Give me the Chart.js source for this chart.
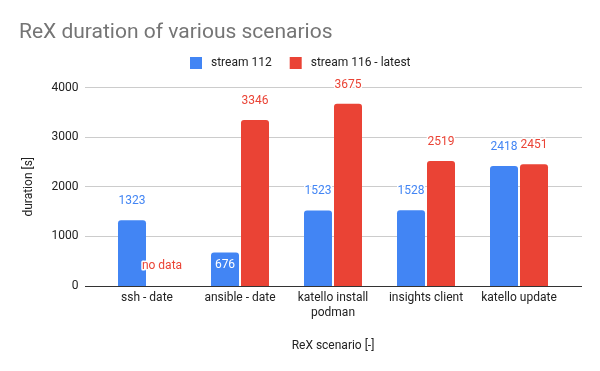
<!DOCTYPE html>
<html>
<head>
<meta charset="utf-8">
<title>ReX duration of various scenarios</title>
<script src="https://cdn.jsdelivr.net/npm/chart.js@4.4.1/dist/chart.umd.min.js"></script>
<style>
  html, body { margin: 0; padding: 0; background: #fff; }
  #wrap { width: 600px; height: 371px; }
</style>
</head>
<body>
<div id="wrap"><canvas id="chart" width="600" height="371"></canvas></div>
<script>
// values
var scenarios = [['ssh - date'], ['ansible - date'], ['katello install', 'podman'], ['insights client'], ['katello update']];
var stream112 = [1323, 676, 1523, 1528, 2418];
var stream116 = [null, 3346, 3675, 2519, 2451];
var seriesNames = ['stream 112', 'stream 116 - latest'];
var seriesColors = ['#4285F4', '#EA4335'];
var yTicks = [0, 1000, 2000, 3000, 4000];

var chartTitle = 'ReX duration of various scenarios';
var insideLimit = 1000; // short bars get their label inside (white), like the sheet does

Chart.defaults.font.family = 'Roboto, "Noto Sans", sans-serif';
Chart.defaults.font.size = 12;
Chart.defaults.color = '#222';

// gridlines run a bit past the bar area on both sides
var gridPlugin = {
    id: 'sheetGrid',
    beforeDatasetsDraw: function(chart) {
        var ctx = chart.ctx, area = chart.chartArea, y = chart.scales.y;
        var x0 = area.left - 15.5, x1 = area.right + 16.5;
        ctx.save();
        ctx.lineWidth = 1;
        y.ticks.forEach(function(t) {
            if (t.value === 0) return;
            var py = Math.round(y.getPixelForValue(t.value) - 0.5) + 0.5;
            ctx.strokeStyle = '#cccccc';
            ctx.beginPath(); ctx.moveTo(x0, py); ctx.lineTo(x1, py); ctx.stroke();
        });
        ctx.restore();
    },
    afterDatasetsDraw: function(chart) {
        var ctx = chart.ctx, area = chart.chartArea, y = chart.scales.y;
        var py = Math.round(y.getPixelForValue(0) - 0.5) + 0.5;
        ctx.save();
        ctx.lineWidth = 1;
        ctx.strokeStyle = '#333333';
        ctx.beginPath(); ctx.moveTo(area.left - 15.5, py); ctx.lineTo(area.right + 16.5, py); ctx.stroke();
        ctx.restore();
    }
};

// value labels above the bars
var labelPlugin = {
    id: 'barLabels',
    afterDatasetsDraw: function(chart) {
        var ctx = chart.ctx;
        var zeroY = chart.scales.y.getPixelForValue(0);
        ctx.save();
        ctx.font = '12px Roboto, "Noto Sans", sans-serif';
        ctx.textAlign = 'center';
        ctx.textBaseline = 'middle';
        ctx.lineJoin = 'round';
        chart.data.datasets.forEach(function(ds, di) {
            var meta = chart.getDatasetMeta(di);
            meta.data.forEach(function(bar, i) {
                var v = ds.data[i];
                var text, color = ds.backgroundColor, py, halo = true;
                if (v === null || v === undefined) {
                    text = 'no data';
                    py = zeroY - 20;
                } else if (v < insideLimit) {
                    text = String(v);
                    color = '#ffffff';
                    py = bar.y + 13;
                    halo = false;
                } else {
                    text = String(v);
                    py = bar.y - 19;
                }
                if (halo) {
                    ctx.strokeStyle = '#ffffff';
                    ctx.lineWidth = 3;
                    ctx.strokeText(text, bar.x, py);
                }
                ctx.fillStyle = color;
                ctx.fillText(text, bar.x, py);
            });
        });
        ctx.restore();
    }
};

// title top-left and legend centred on the whole canvas
var headPlugin = {
    id: 'sheetHead',
    afterDraw: function(chart) {
        var ctx = chart.ctx;
        ctx.save();
        ctx.font = '21px Roboto, "Noto Sans", sans-serif';
        ctx.fillStyle = '#757575';
        ctx.textAlign = 'left';
        ctx.textBaseline = 'alphabetic';
        ctx.fillText(chartTitle, 19, 37.5);

        ctx.font = '12px Roboto, "Noto Sans", sans-serif';
        ctx.textBaseline = 'middle';
        var box = 12, gap = 9, itemGap = 18;
        var widths = chart.data.datasets.map(function(ds) { return ctx.measureText(ds.label).width; });
        var total = 0;
        widths.forEach(function(w, i) { total += box + gap + w + (i > 0 ? itemGap : 0); });
        var x = Math.round((chart.width - total) / 2);
        chart.data.datasets.forEach(function(ds, i) {
            ctx.fillStyle = ds.backgroundColor;
            ctx.fillRect(x, 57, box, box);
            ctx.fillStyle = '#222';
            ctx.fillText(ds.label, x + box + gap, 63);
            x += box + gap + widths[i] + itemGap;
        });
        ctx.restore();
    }
};

var ctx = document.getElementById('chart').getContext('2d');
var myChart = new Chart(ctx, {
    type: 'bar',
    data: {
        labels: scenarios,
        datasets: [{
            label: seriesNames[0],
            data: stream112,
            backgroundColor: seriesColors[0],
            borderRadius: 3,
            categoryPercentage: 60 / 93,
            barPercentage: 28 / 30
        }, {
            label: seriesNames[1],
            data: stream116,
            backgroundColor: seriesColors[1],
            borderRadius: 3,
            categoryPercentage: 60 / 93,
            barPercentage: 28 / 30
        }]
    },
    options: {
        responsive: false,
        animation: false,
        devicePixelRatio: 1,
        layout: { padding: { top: 87.5, right: 34.5, left: 0, bottom: 0 } },
        plugins: {
            legend: { display: false },
            title: { display: false },
            tooltip: { enabled: false }
        },
        scales: {
            x: {
                grid: { display: false, drawTicks: false },
                border: { display: false },
                ticks: { padding: 5, color: '#222', maxRotation: 0, autoSkip: false },
                title: { display: true, text: 'ReX scenario [-]', color: '#222', padding: { top: 0, bottom: 18 } },
                afterFit: function(s) { s.height = 85; }
            },
            y: {
                min: 0,
                max: 4000,
                grid: { display: false, drawTicks: false },
                border: { display: false },
                ticks: {
                    padding: 22,
                    color: '#222',
                    callback: function(value) { return String(value); }
                },
                afterBuildTicks: function(s) { s.ticks = yTicks.map(function(v) { return { value: v }; }); },
                title: { display: true, text: 'duration [s]', color: '#222', padding: { top: 22, bottom: 0 } },
                afterFit: function(s) { s.width = 100.5; }
            }
        }
    },
    plugins: [gridPlugin, labelPlugin, headPlugin]
});
</script>
</body>
</html>
